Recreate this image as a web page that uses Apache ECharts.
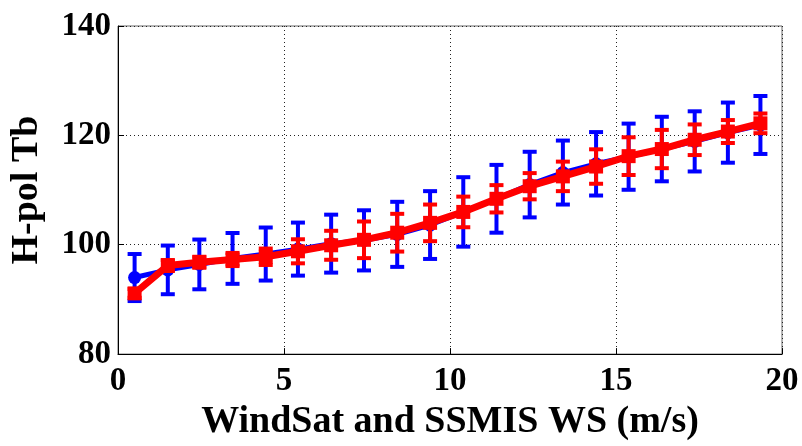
<!DOCTYPE html>
<html>
<head>
<meta charset="utf-8">
<script src="https://cdn.jsdelivr.net/npm/echarts@6/dist/echarts.min.js"></script>
<style>
  html, body { margin: 0; padding: 0; background: #fff; }
  #chart { width: 802px; height: 446px; }
</style>
</head>
<body>
<div id="chart"></div>
<script>
// Mean wind speed of each bin (m/s)
const windSpeed = [0.5, 1.5, 2.45, 3.45, 4.45, 5.42, 6.42, 7.41, 8.41, 9.4,
                   10.4, 11.4, 12.4, 13.4, 14.4, 15.38, 16.38, 17.37, 18.37, 19.35];
// WindSat H-pol Tb: bin mean and standard deviation
const windsatTb  = [94.0, 95.4, 96.4, 97.5, 98.3, 99.2, 100.2, 100.8, 101.9, 103.6,
                    106.0, 108.4, 111.0, 113.2, 114.8, 116.1, 117.5, 118.9, 120.5, 121.9];
const windsatStd = [4.3, 4.45, 4.55, 4.65, 4.85, 4.85, 5.3, 5.5, 5.95, 6.2,
                    6.35, 6.2, 6.0, 5.85, 5.8, 6.05, 5.9, 5.5, 5.5, 5.3];
// SSMIS H-pol Tb: bin mean and standard deviation
const ssmisTb    = [91.1, 96.2, 96.8, 97.3, 97.8, 98.8, 99.9, 100.9, 102.2, 104.0,
                    106.0, 108.4, 110.7, 112.5, 114.3, 116.2, 117.5, 119.2, 120.7, 122.2];
const ssmisStd   = [0.8, 1.0, 1.0, 1.2, 1.5, 2.2, 2.65, 3.35, 3.45, 3.35,
                    2.8, 2.5, 2.4, 2.7, 3.15, 3.45, 3.5, 2.8, 2.1, 1.8];

const xTicks = [0, 5, 10, 15, 20];
const yTicks = [80, 100, 120, 140];

const FONT = 'Liberation Serif';

function pairs(xs, ys) { return xs.map((x, i) => [x, ys[i]]); }
function bars(xs, ys, sd) { return xs.map((x, i) => [x, ys[i] - sd[i], ys[i] + sd[i]]); }

// Error bar: vertical stem plus two horizontal caps, positioned through the axes
function errorBarSeries(data, color, z) {
  return {
    type: 'custom',
    z: z,
    data: data,
    encode: { x: 0, y: [1, 2] },
    renderItem: function (params, api) {
      const x = api.value(0);
      const lo = api.coord([x, api.value(1)]);
      const hi = api.coord([x, api.value(2)]);
      const half = 7;
      const style = { stroke: color, lineWidth: 4 };
      return {
        type: 'group',
        children: [
          { type: 'line', shape: { x1: lo[0], y1: lo[1], x2: hi[0], y2: hi[1] }, style: style },
          { type: 'line', shape: { x1: lo[0] - half, y1: lo[1], x2: lo[0] + half, y2: lo[1] }, style: style },
          { type: 'line', shape: { x1: hi[0] - half, y1: hi[1], x2: hi[0] + half, y2: hi[1] }, style: style }
        ]
      };
    }
  };
}

const chart = echarts.init(document.getElementById('chart'), null, { renderer: 'canvas' });

chart.setOption({
  animation: false,
  backgroundColor: '#fff',
  grid: {
    left: 117, right: 20, top: 26, bottom: 80,
    show: true, borderColor: '#666', borderWidth: 1, backgroundColor: 'transparent'
  },
  xAxis: {
    type: 'value',
    min: xTicks[0], max: xTicks[xTicks.length - 1], interval: 5,
    name: 'WindSat and SSMIS WS (m/s)',
    nameLocation: 'middle',
    nameGap: 37,
    nameTextStyle: { fontFamily: FONT, fontWeight: 'bold', fontSize: 38, color: '#000' },
    axisLine: { show: true, lineStyle: { color: '#000', width: 1 } },
    axisTick: { show: true, inside: true, length: 6, lineStyle: { color: '#000' } },
    axisLabel: { fontFamily: FONT, fontWeight: 'bold', fontSize: 33, color: '#000', margin: 11 },
    splitLine: { show: true, lineStyle: { color: '#222', width: 1, type: [1, 3] } }
  },
  yAxis: {
    type: 'value',
    min: yTicks[0], max: yTicks[yTicks.length - 1], interval: 20,
    name: 'H-pol Tb',
    nameLocation: 'middle',
    nameGap: 72,
    nameTextStyle: { fontFamily: FONT, fontWeight: 'bold', fontSize: 38, color: '#000' },
    axisLine: { show: true, lineStyle: { color: '#000', width: 1 } },
    axisTick: { show: true, inside: true, length: 6, lineStyle: { color: '#000' } },
    axisLabel: { fontFamily: FONT, fontWeight: 'bold', fontSize: 33, color: '#000', margin: 7 },
    splitLine: { show: true, lineStyle: { color: '#222', width: 1, type: [1, 3] } }
  },
  series: [
    errorBarSeries(bars(windSpeed, windsatTb, windsatStd), '#0000ff', 2),
    {
      name: 'WindSat', type: 'line', z: 3,
      data: pairs(windSpeed, windsatTb),
      symbol: 'circle', symbolSize: 13,
      lineStyle: { color: '#0000ff', width: 5 },
      itemStyle: { color: '#0000ff' }
    },
    errorBarSeries(bars(windSpeed, ssmisTb, ssmisStd), '#ff0000', 4),
    {
      name: 'SSMIS', type: 'line', z: 5,
      data: pairs(windSpeed, ssmisTb),
      symbol: 'rect', symbolSize: 14,
      lineStyle: { color: '#ff0000', width: 7 },
      itemStyle: { color: '#ff0000' }
    }
  ]
});
</script>
</body>
</html>
